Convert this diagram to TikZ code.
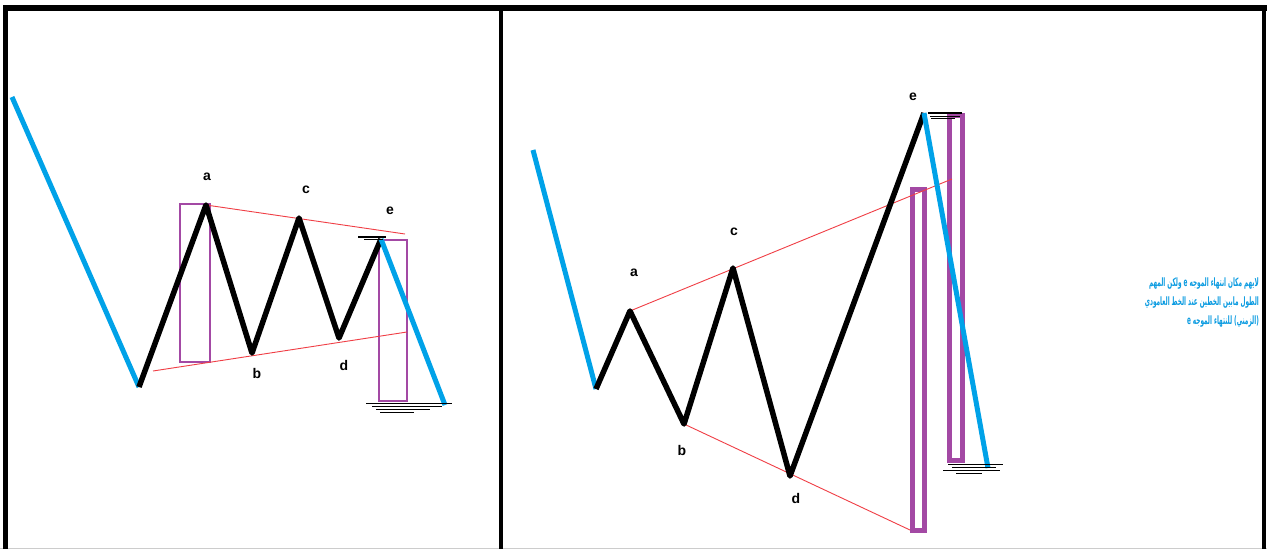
\documentclass[tikz,border=0pt]{standalone}
\usepackage{fontspec}
\setmainfont{Liberation Sans}
\newfontfamily\arabicfont[Script=Arabic]{DejaVu Sans}
\TeXXeTstate=1
\definecolor{pblue}{RGB}{0,162,232}
\definecolor{ppurple}{RGB}{163,73,164}
\definecolor{pred}{RGB}{237,28,36}
\definecolor{tblue}{RGB}{10,155,225}
\begin{document}
\begin{tikzpicture}[x=1pt,y=-1pt,
  frame/.style={line width=#1, black},
  bluewave/.style={line width=5pt, pblue},
  blackwave/.style={line width=5.5pt, black, line join=round},
  trend/.style={line width=0.9pt, pred!85},
  boxthin/.style={line width=2.5pt, ppurple},
  boxthick/.style={line width=5pt, ppurple},
  hatch/.style={line width=1pt, black},
  lbl/.style={font=\bfseries\fontsize{14}{14}\selectfont, inner sep=0pt},
  atext/.style={font=\arabicfont\bfseries\fontsize{11.5}{12}\selectfont, text=tblue, inner sep=0pt, anchor=east, xscale=0.5}]
\useasboundingbox (0,0) rectangle (1267,549);
\fill[white] (0,0) rectangle (1267,549);
\draw[gray!40, line width=1pt] (0,548) -- (1267,548);
% frame
\draw[frame=6pt] (3,8) -- (1267,8);
\draw[frame=5pt] (5,8) -- (5,549);
\draw[frame=4.5pt] (501,8) -- (501,549);
\draw[frame=4pt] (1264,8) -- (1264,549);

% ---------- left panel ----------
\coordinate (L0) at (12,97);
\coordinate (Ls) at (139,387);
\coordinate (La) at (206,205);
\coordinate (Lb) at (252,353);
\coordinate (Lc) at (299,218);
\coordinate (Ld) at (339,338);
\coordinate (Le) at (381,239);
\coordinate (Lend) at (445,405);
\coordinate (Lu2) at (405,234);
\coordinate (Ll1) at (153,371);
\coordinate (Ll2) at (407,332);

\draw[boxthin] (180,204) rectangle (210,362);
\draw[boxthin] (379,240) rectangle (407,401);
\draw[trend] (La) -- (Lu2);
\draw[trend] (Ll1) -- (Ll2);
\draw[bluewave] (L0) -- (Ls);
\draw[blackwave] (Ls) -- (La) -- (Lb) -- (Lc) -- (Ld) -- (Le);
\draw[bluewave] (Le) -- (Lend);
\draw[hatch, line width=2pt] (358,237) -- (386,237);
\draw[hatch] (364,239.5) -- (383,239.5);
\draw[hatch] (366,403) -- (452,403);
\draw[hatch] (372,406) -- (442,406);
\draw[hatch] (376,409) -- (430,409);
\draw[hatch] (380,412) -- (414,412);

\node[lbl] (la) at (207,177) {a};
\node[lbl] (lb) at (257,373) {b};
\node[lbl] (lc) at (306,190) {c};
\node[lbl] (ld) at (344,365) {d};
\node[lbl] (le) at (390,211) {e};

% ---------- right panel ----------
\coordinate (R0) at (533,150);
\coordinate (Rs) at (596,389);
\coordinate (Ra) at (630,311);
\coordinate (Rb) at (684,424);
\coordinate (Rc) at (733,268);
\coordinate (Rd) at (790,476);
\coordinate (Re) at (924,113);
\coordinate (Rend) at (988,468);
\coordinate (Ru2) at (952,179);
\coordinate (Rl2) at (910,530);

\draw[boxthick] (912.5,189.5) rectangle (924.5,530.5);
\draw[boxthick] (949.5,115.5) rectangle (962.5,460.5);
\draw[trend] (Ra) -- (Ru2);
\draw[trend] (Rb) -- (Rl2);
\draw[bluewave] (R0) -- (Rs);
\draw[blackwave] (Rs) -- (Ra) -- (Rb) -- (Rc) -- (Rd) -- (Re);
\draw[bluewave] (Re) -- (Rend);
\draw[hatch, line width=2.5pt] (928,113) -- (962,113);
\draw[hatch] (930,116) -- (960,116);
\draw[hatch] (931,118.5) -- (955,118.5);
\draw[hatch] (948,464) -- (1003,464);
\draw[hatch] (952,467) -- (996,467);
\draw[hatch] (943,470) -- (1000,470);
\draw[hatch] (956,473) -- (982,473);

\node[lbl] (ra) at (634,273) {a};
\node[lbl] (rb) at (682,450) {b};
\node[lbl] (rc) at (734,232) {c};
\node[lbl] (rd) at (796,498) {d};
\node[lbl] (re) at (913,97) {e};

% ---------- Arabic note ----------
\node[atext] (t1) at (1259,284) {\beginR لايهم مكان انتهاء الموجه e ولكن المهم\endR};
\node[atext] (t2) at (1259,303) {\beginR الطول مابين الخطين عند الخط العامودي\endR};
\node[atext] (t3) at (1259,322) {\beginR (الزمني) للنتهاء الموجه e\endR};
\end{tikzpicture}
\end{document}
